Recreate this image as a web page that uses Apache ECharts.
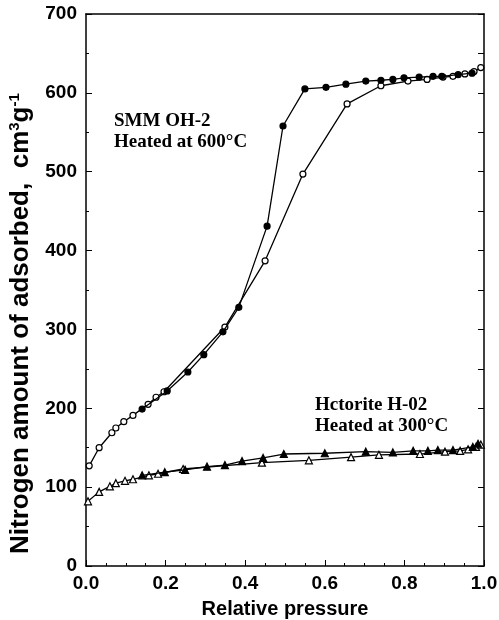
<!DOCTYPE html>
<html>
<head>
<meta charset="utf-8">
<script src="https://cdn.jsdelivr.net/npm/echarts@6/dist/echarts.min.js"></script>
<style>
  html, body { margin: 0; padding: 0; background: #fff; }
  #chart { width: 499px; height: 620px; }
</style>
</head>
<body>
<div id="chart"></div>
<script>
// SMM OH-2, heated at 600 C
const smmAdsX = [0.141, 0.204, 0.256, 0.296, 0.344, 0.384, 0.455, 0.495, 0.55, 0.603, 0.653, 0.703, 0.741, 0.771, 0.799, 0.837, 0.872, 0.894, 0.935, 0.97];
const smmAdsY = [199, 222, 246, 268, 297, 328, 431, 558, 605, 607, 611, 615, 616, 617, 619, 620, 621, 621, 623, 625];
const smmDesX = [0.008, 0.033, 0.065, 0.075, 0.095, 0.118, 0.156, 0.176, 0.196, 0.349, 0.45, 0.545, 0.656, 0.741, 0.809, 0.857, 0.897, 0.922, 0.952, 0.975, 0.992];
const smmDesY = [127, 150, 169, 175, 183, 191, 205, 214, 221, 303, 387, 497, 586, 609, 615, 617, 620, 621, 624, 627, 632];

// Hectorite H-02, heated at 300 C
const hecAdsX = [0.141, 0.198, 0.249, 0.304, 0.349, 0.392, 0.445, 0.497, 0.6, 0.703, 0.771, 0.822, 0.859, 0.884, 0.922, 0.972, 0.985];
const hecAdsY = [115, 119, 122, 126, 128, 133, 137, 142, 143, 145, 144, 146, 146, 147, 147, 151, 155];
const hecDesX = [0.005, 0.033, 0.06, 0.075, 0.098, 0.118, 0.158, 0.181, 0.244, 0.442, 0.56, 0.666, 0.736, 0.839, 0.902, 0.94, 0.96, 0.98, 0.992];
const hecDesY = [82, 94, 101, 105, 108, 110, 115, 117, 123, 131, 134, 138, 141, 142, 145, 146, 148, 151, 154];

const xTicks = ['0.0', '0.2', '0.4', '0.6', '0.8', '1.0'];

function pairs(xs, ys) {
  return xs.map((x, i) => [x, ys[i]]);
}

const chart = echarts.init(document.getElementById('chart'), null, { renderer: 'canvas' });

const lineStyle = { color: '#000', width: 1.3 };
function makeSeries(name, xs, ys, symbol, size, filled) {
  return {
    name: name,
    type: 'line',
    data: pairs(xs, ys),
    symbol: symbol,
    symbolSize: size,
    showAllSymbol: true,
    lineStyle: lineStyle,
    itemStyle: {
      color: filled ? '#000' : '#fff',
      borderColor: '#000',
      borderWidth: 1.2
    },
    emphasis: { disabled: true },
    animation: false,
    z: filled ? 3 : 2
  };
}

const sans = 'Liberation Sans, Arial, sans-serif';
const axisLabelFont = {
  color: '#000',
  fontFamily: sans,
  fontWeight: 'bold',
  fontSize: 19
};

chart.setOption({
  backgroundColor: '#fff',
  animation: false,
  grid: { left: 86, right: 15, top: 14, bottom: 54, outerBoundsMode: 'none', containLabel: false },
  xAxis: [
    {
      type: 'value',
      min: 0,
      max: 1,
      interval: 0.2,
      name: 'Relative pressure',
      nameLocation: 'middle',
      nameGap: 33,
      nameTextStyle: {
        color: '#000',
        fontFamily: sans,
        fontWeight: 'bold',
        fontSize: 20
      },
      axisLine: { show: true, onZero: false, lineStyle: { color: '#000', width: 1.5 } },
      axisTick: { show: true, inside: true, length: 6, lineStyle: { color: '#000' } },
      minorTick: { show: true, splitNumber: 4, length: 3, lineStyle: { color: '#000' } },
      splitLine: { show: false },
      axisLabel: Object.assign({ margin: 8, formatter: v => xTicks[Math.round(v * 5)] }, axisLabelFont)
    },
    {
      type: 'value',
      position: 'top',
      min: 0,
      max: 1,
      interval: 0.2,
      axisLine: { show: true, onZero: false, lineStyle: { color: '#000', width: 1.5 } },
      axisTick: { show: false },
      axisLabel: { show: false },
      splitLine: { show: false }
    }
  ],
  yAxis: [
    {
      type: 'value',
      min: 0,
      max: 700,
      interval: 100,
      axisLine: { show: true, onZero: false, lineStyle: { color: '#000', width: 1.5 } },
      axisTick: { show: true, inside: true, length: 6, lineStyle: { color: '#000' } },
      minorTick: { show: true, splitNumber: 2, length: 3, lineStyle: { color: '#000' } },
      splitLine: { show: false },
      axisLabel: Object.assign({ margin: 9 }, axisLabelFont)
    },
    {
      type: 'value',
      position: 'right',
      min: 0,
      max: 700,
      interval: 50,
      axisLine: { show: true, onZero: false, lineStyle: { color: '#000', width: 1.5 } },
      axisTick: { show: true, inside: true, length: 6, lineStyle: { color: '#000' } },
      axisLabel: { show: false },
      splitLine: { show: false }
    }
  ],
  graphic: [
    {
      // y axis title, rotated
      type: 'text',
      x: 34,
      y: 554,
      rotation: Math.PI / 2,
      style: {
        text: '{a|Nitrogen amount of adsorbed,  cm}{s|3}{a|g}{s|-1}',
        textAlign: 'left',
        textVerticalAlign: 'bottom',
        rich: {
          a: {
            fill: '#000',
            fontFamily: sans,
            fontWeight: 'bold',
            fontSize: 26
          },
          s: {
            fill: '#000',
            fontFamily: sans,
            fontWeight: 'bold',
            fontSize: 15,
            verticalAlign: 'top',
            padding: [0, 0, 12, 0]
          }
        }
      }
    },
    {
      type: 'text',
      left: 114,
      top: 111,
      style: {
        text: 'SMM OH-2\nHeated at 600°C',
        fill: '#000',
        font: 'bold 19px "Liberation Serif", "Times New Roman", serif',
        lineHeight: 21
      }
    },
    {
      type: 'text',
      left: 315,
      top: 395,
      style: {
        text: 'Hctorite H-02\nHeated at 300°C',
        fill: '#000',
        font: 'bold 19px "Liberation Serif", "Times New Roman", serif',
        lineHeight: 21
      }
    }
  ],
  series: [
    makeSeries('SMM desorption', smmDesX, smmDesY, 'circle', 6, false),
    makeSeries('SMM adsorption', smmAdsX, smmAdsY, 'circle', 6, true),
    makeSeries('Hectorite desorption', hecDesX, hecDesY, 'triangle', 7, false),
    makeSeries('Hectorite adsorption', hecAdsX, hecAdsY, 'triangle', 7, true)
  ]
});
</script>
</body>
</html>
